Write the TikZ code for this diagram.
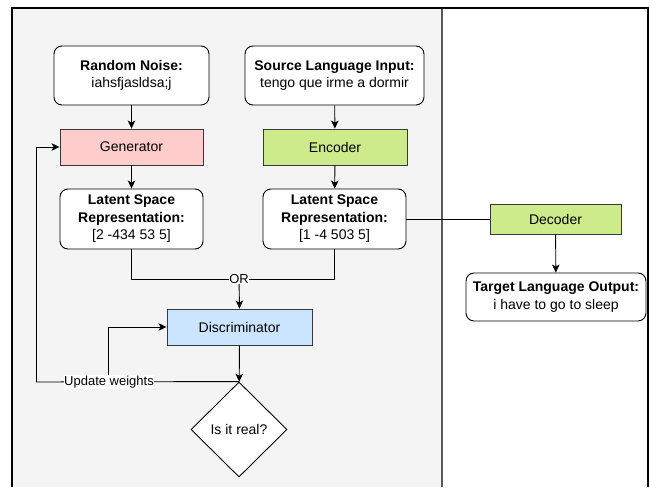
\documentclass[tikz,border=0pt]{standalone}
\usepackage{fontspec}
\setmainfont{Liberation Sans}
\usetikzlibrary{shapes.geometric,arrows.meta}
\definecolor{panel}{HTML}{F4F4F4}
\definecolor{dark}{HTML}{36393D}
\definecolor{genfill}{HTML}{FFCCCC}
\definecolor{greenfill}{HTML}{CDEB8B}
\definecolor{bluefill}{HTML}{CCE5FF}
\tikzset{
  txt/.style={font=\fontsize{14}{17.5}\selectfont, align=center, inner sep=0pt},
  roundbox/.style={txt, draw=black, fill=white, rounded corners=8pt, line width=0.9pt},
  procbox/.style={txt, draw=dark, line width=0.9pt},
  conn/.style={draw=black, line width=0.9pt},
  arr/.style={conn, -{Stealth[length=8pt,width=7.5pt,inset=2pt]}},
  lbl/.style={font=\fontsize{13}{15}\selectfont, fill=white, inner sep=0.5pt}
}
\begin{document}
\begin{tikzpicture}[x=1pt,y=-1pt]
\useasboundingbox (0,0) rectangle (650,487);
% panels
\fill[panel] (12,9) rectangle (442,487);
\draw[gray!70!black, line width=1.2pt] (442,9) -- (442,487);
\draw[black, line width=2pt] (12,487) -- (12,8) -- (648,8) -- (648,487);
% nodes
\node[roundbox, minimum width=155pt, minimum height=59pt] (noise) at (131.5,75.5) {\textbf{Random Noise:}\\iahsfjasldsa;j};
\node[roundbox, minimum width=179pt, minimum height=59pt] (src) at (334.5,75.5) {\textbf{Source Language Input:}\\tengo que irme a dormir};
\node[procbox, fill=genfill, minimum width=143pt, minimum height=36pt] (gen) at (131.5,147) {Generator};
\node[procbox, fill=greenfill, minimum width=144pt, minimum height=36pt] (enc) at (335,147) {Encoder};
\node[roundbox, minimum width=143pt, minimum height=60pt] (lat1) at (131.5,219) {\textbf{Latent Space}\\\textbf{Representation:}\\{[}2 -434 53 5{]}};
\node[roundbox, minimum width=143pt, minimum height=60pt] (lat2) at (334.5,219) {\textbf{Latent Space}\\\textbf{Representation:}\\{[}1 -4 503 5{]}};
\node[procbox, fill=greenfill, minimum width=131pt, minimum height=30pt] (dec) at (555.5,219) {Decoder};
\node[roundbox, minimum width=180pt, minimum height=48pt] (tgt) at (556,297) {\textbf{Target Language Output:}\\i have to go to sleep};
\node[procbox, fill=bluefill, minimum width=145pt, minimum height=36pt] (disc) at (239.5,327) {Discriminator};
\node[txt, diamond, draw=black, fill=white, line width=0.9pt, minimum width=96pt, minimum height=95pt, aspect=1] (real) at (239,429.5) {Is it real?};
\coordinate (orc) at (239,279);
\coordinate (upl) at (36,382);
\coordinate (br) at (108,382);
% connectors
\draw[arr] (noise) -- (gen);
\draw[arr] (src) -- (enc);
\draw[arr] (gen) -- (lat1);
\draw[arr] (enc) -- (lat2);
\draw[conn] (lat2.east) -- (dec.west);
\draw[arr] (dec) -- (tgt);
\draw[conn] (lat1.south) |- (orc);
\draw[conn] (lat2.south) |- (orc);
\draw[arr] (orc) -- (disc.north);
\node[lbl] (orlbl) at (orc) {OR};
\draw[arr] (disc) -- (real);
\draw[conn] (real.north) -- (upl);
\draw[arr] (upl) |- (gen.west);
\draw[arr] (br) |- (disc.west);
\node[lbl] (uplbl) at (109,382) {Update weights};
\end{tikzpicture}
\end{document}
